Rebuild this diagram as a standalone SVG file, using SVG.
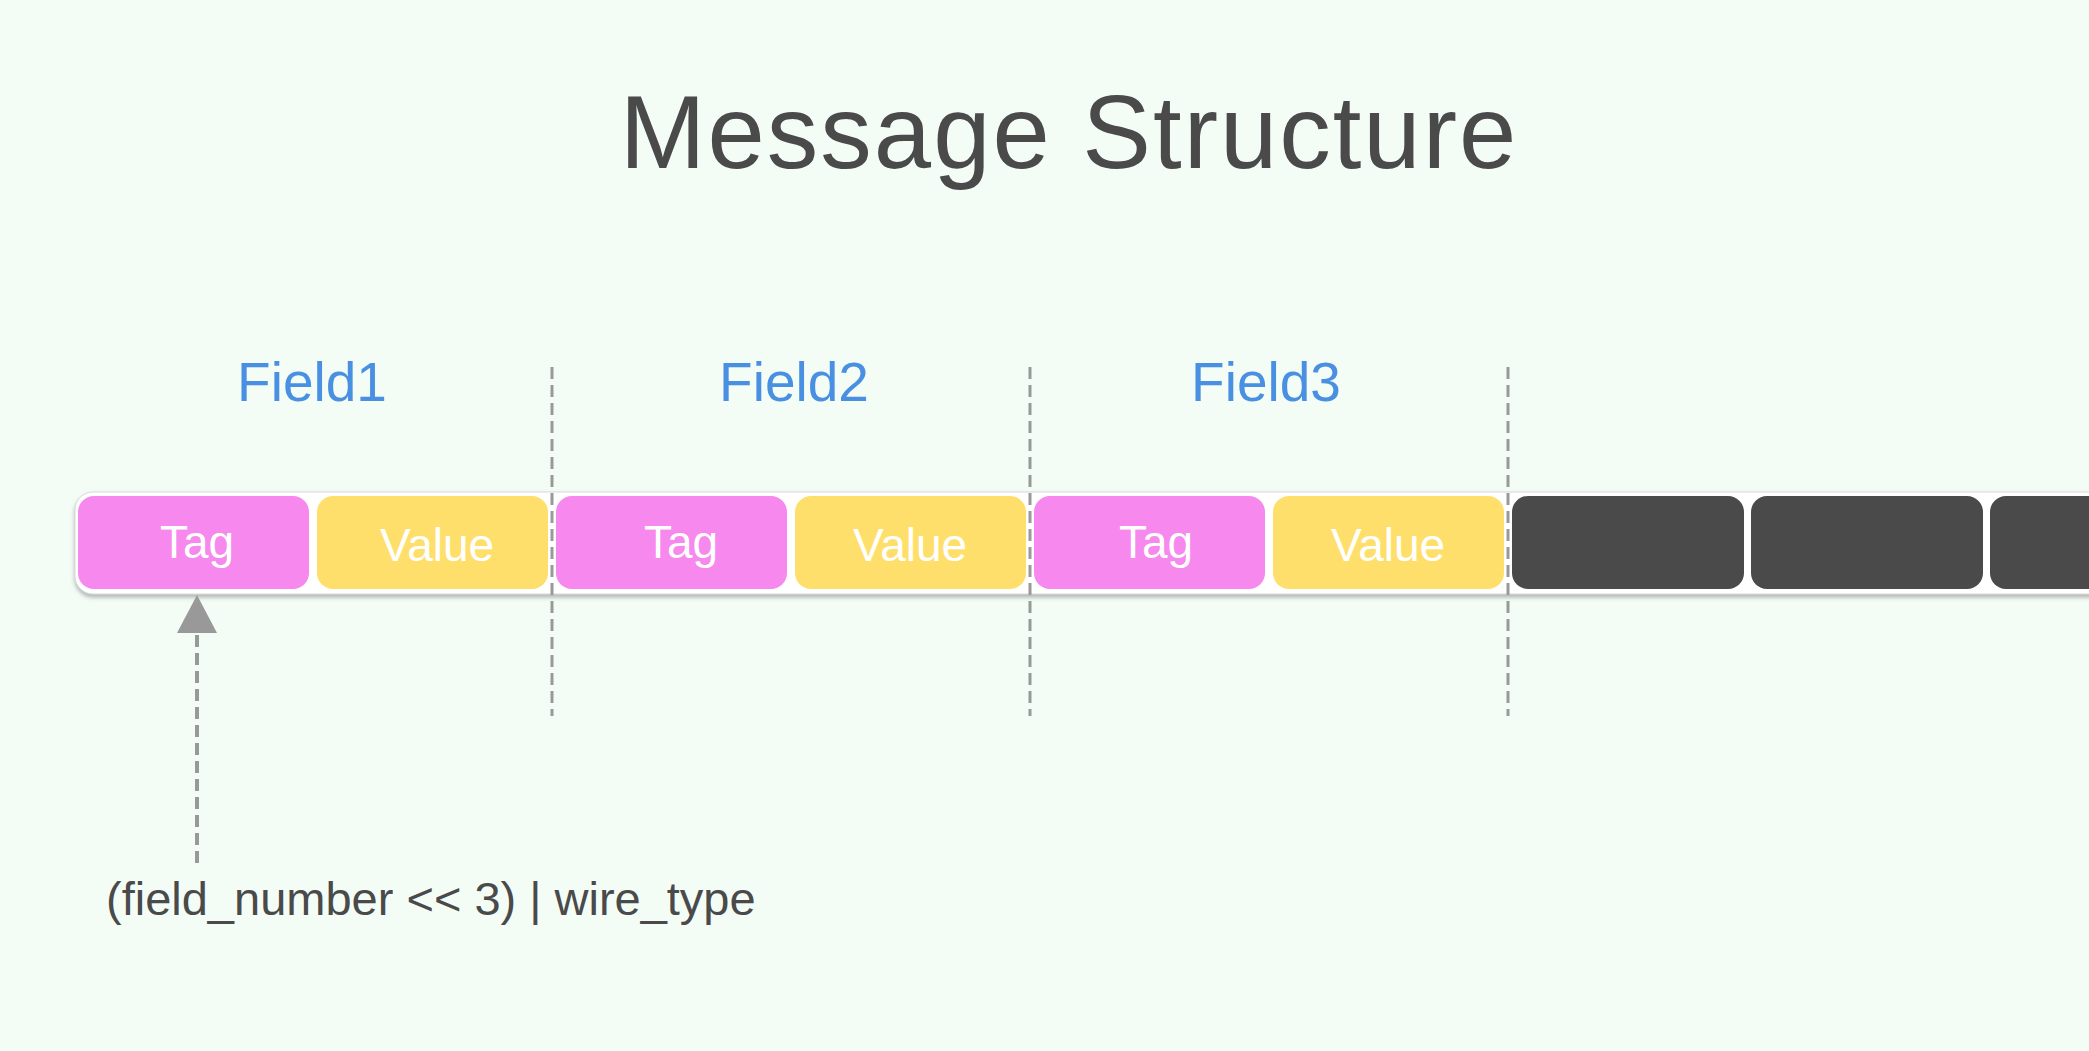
<svg xmlns="http://www.w3.org/2000/svg" width="2089" height="1051" viewBox="0 0 2089 1051">
  <defs>
    <style>
      .bg { fill: #f3fdf6; }
      .title { font-family: "Liberation Sans", Arial, sans-serif; font-size: 103px; fill: #4a4a4a; letter-spacing: 2px; }
      .field { font-family: "Liberation Sans", Arial, sans-serif; font-size: 55px; fill: #4a90e2; }
      .cell-label { font-family: "Liberation Sans", Arial, sans-serif; font-size: 46px; fill: #ffffff; }
      .note { font-family: "Liberation Sans", Arial, sans-serif; font-size: 47px; fill: #4a4a4a; }
      .tag { fill: #f688ee; }
      .value { fill: #ffdf6c; }
      .dark { fill: #4a4a4a; }
      .divider { stroke: #999999; stroke-width: 3; stroke-dasharray: 12 6; fill: none; }
      .pointer { stroke: #999999; stroke-width: 4; stroke-dasharray: 12 6; fill: none; }
    </style>
    <filter id="barShadow" x="-5%" y="-30%" width="110%" height="160%">
      <feDropShadow dx="0" dy="3" stdDeviation="2" flood-color="#7a7a7a" flood-opacity="0.55"/>
    </filter>
    <marker id="arrowHead" markerUnits="userSpaceOnUse" markerWidth="38" markerHeight="40" viewBox="0 0 36 38" refX="0" refY="19" orient="auto">
      <path d="M0,0 L36,19 L0,38 Z" fill="#999999"/>
    </marker>
  </defs>

  <rect class="bg" x="0" y="0" width="2089" height="1051"/>

  <g id="title">
    <text class="title" x="1069" y="168" text-anchor="middle">Message Structure</text>
  </g>

  <g id="field-labels">
    <text class="field" x="312" y="401" text-anchor="middle">Field1</text>
    <text class="field" x="794" y="401" text-anchor="middle">Field2</text>
    <text class="field" x="1266" y="401" text-anchor="middle">Field3</text>
  </g>

  <g id="bar">
    <rect x="75" y="492" width="2100" height="102" rx="18" fill="#ffffff" stroke="#d8d8d8" stroke-width="1" filter="url(#barShadow)"/>
  </g>

  <g id="field1-tag">
    <rect class="tag" x="78" y="496" width="231" height="93" rx="16"/>
    <text class="cell-label" x="197" y="558" text-anchor="middle">Tag</text>
  </g>
  <g id="field1-value">
    <rect class="value" x="317" y="496" width="231" height="93" rx="16"/>
    <text class="cell-label" x="437" y="561" text-anchor="middle">Value</text>
  </g>
  <g id="field2-tag">
    <rect class="tag" x="556" y="496" width="231" height="93" rx="16"/>
    <text class="cell-label" x="681" y="558" text-anchor="middle">Tag</text>
  </g>
  <g id="field2-value">
    <rect class="value" x="795" y="496" width="231" height="93" rx="16"/>
    <text class="cell-label" x="910" y="561" text-anchor="middle">Value</text>
  </g>
  <g id="field3-tag">
    <rect class="tag" x="1034" y="496" width="231" height="93" rx="16"/>
    <text class="cell-label" x="1156" y="558" text-anchor="middle">Tag</text>
  </g>
  <g id="field3-value">
    <rect class="value" x="1273" y="496" width="231" height="93" rx="16"/>
    <text class="cell-label" x="1388" y="561" text-anchor="middle">Value</text>
  </g>
  <g id="more-1">
    <rect class="dark" x="1512" y="496" width="232" height="93" rx="16"/>
  </g>
  <g id="more-2">
    <rect class="dark" x="1751" y="496" width="232" height="93" rx="16"/>
  </g>
  <g id="more-3">
    <rect class="dark" x="1990" y="496" width="232" height="93" rx="16"/>
  </g>

  <g id="connectors">
    <line class="divider" x1="552" y1="367" x2="552" y2="716"/>
    <line class="divider" x1="1030" y1="367" x2="1030" y2="716"/>
    <line class="divider" x1="1508" y1="367" x2="1508" y2="716"/>
    <line class="pointer" x1="197" y1="863" x2="197" y2="633" marker-end="url(#arrowHead)"/>
  </g>

  <g id="tag-note">
    <text class="note" x="106" y="915">(field_number &lt;&lt; 3) | wire_type</text>
  </g>
</svg>
